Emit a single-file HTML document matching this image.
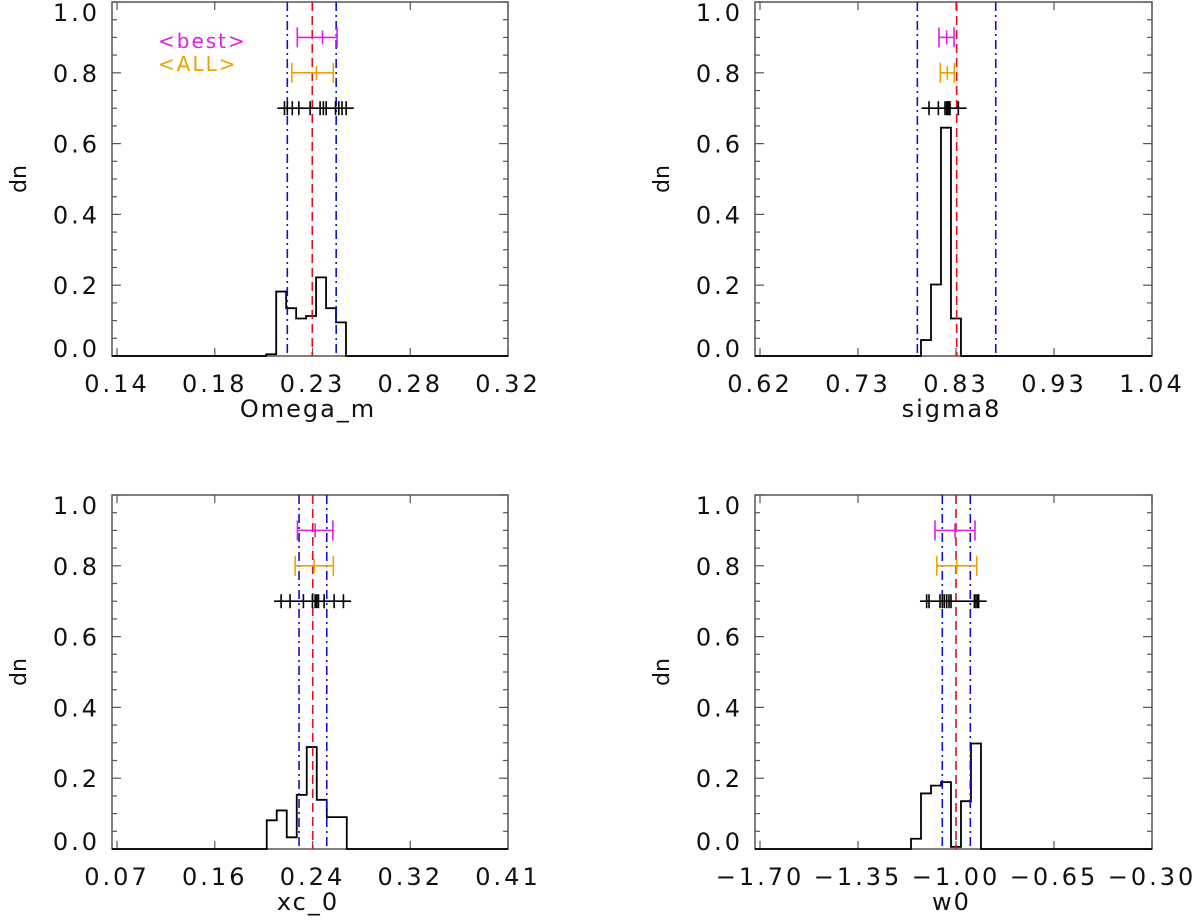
<!DOCTYPE html>
<html><head><meta charset="utf-8"><style>
html,body{margin:0;padding:0;background:#fff;}
svg text{font-family:"DejaVu Sans","Liberation Sans",sans-serif;fill:#111;}
</style></head><body>
<svg id="chart" width="1200" height="917" viewBox="0 0 1200 917" xmlns="http://www.w3.org/2000/svg"></svg>
<script>
// ---- data: Omega_m panel ----
const omegaTicks = ["0.14","0.18","0.23","0.28","0.32"];
const omegaRange = [0.14, 0.32];
const omegaBinStart = 0.2087;
const omegaBinWidth = 0.00459;
const omegaCounts = [0.005,0.182,0.135,0.106,0.113,0.222,0.135,0.095];
const omegaBlue = [0.2184, 0.2409];
const omegaRed = [0.2299];
const omegaBest = [0.2230, 0.2346, 0.2413];
const omegaAll = [0.2205, 0.2318, 0.2396];
const omegaSpan = [0.2138, 0.2490];
const omegaSamples = [0.2171,0.2184,0.2207,0.2237,0.2289,0.2335,0.2350,0.2363,0.2406,0.2421,0.2436,0.2455];

// ---- data: sigma8 panel ----
const sigmaTicks = ["0.62","0.73","0.83","0.93","1.04"];
const sigmaRange = [0.62, 1.04];
const sigmaBinStart = 0.7925;
const sigmaBinWidth = 0.0107;
const sigmaCounts = [0.045,0.202,0.645,0.106];
const sigmaBlue = [0.7886, 0.8726];
const sigmaRed = [0.8307];
const sigmaBest = [0.8118, 0.8200, 0.8279];
const sigmaAll = [0.8132, 0.8207, 0.8282];
const sigmaSpan = [0.7932, 0.8414];
const sigmaSamples = [0.8011,0.8111,0.8182,0.8200,0.8207,0.8215,0.8222,0.8229,0.8236,0.8325];

// ---- data: xc_0 panel ----
const xcTicks = ["0.07","0.16","0.24","0.32","0.41"];
const xcRange = [0.07, 0.41];
const xcBinStart = 0.2002;
const xcBinWidth = 0.0087;
const xcCounts = [0.081,0.109,0.033,0.153,0.288,0.139,0.090,0.090];
const xcBlue = [0.2283, 0.2524];
const xcRed = [0.2402];
const xcBest = [0.2269, 0.2423, 0.2577];
const xcAll = [0.2249, 0.2414, 0.2581];
const xcSpan = [0.2066, 0.2736];
const xcSamples = [0.2127,0.2205,0.2321,0.2399,0.2423,0.2437,0.2452,0.2501,0.2588,0.2669];

// ---- data: w0 panel ----
const wTicks = ["\u22121.70","\u22121.35","\u22121.00","\u22120.65","\u22120.30"];
const wRange = [-1.70, -0.30];
const wBinStart = -1.1607;
const wBinWidth = 0.0357;
const wCounts = [0.029,0.157,0.179,0.189,0.006,0.135,0.298];
const wBlue = [-1.0489, -0.9489];
const wRed = [-1.0];
const wBest = [-1.075, -1.0036, -0.9322];
const wAll = [-1.069, -0.9976, -0.926];
const wSpan = [-1.1286, -0.8905];
const wSamples = [-1.1048,-1.0964,-1.0571,-1.0489,-1.0417,-1.0333,-1.025,-1.0179,-0.9345,-0.9286,-0.9226,-0.919];

const yTicks = ["0.0","0.2","0.4","0.6","0.8","1.0"];

const NS = "http://www.w3.org/2000/svg";
const svg = document.getElementById("chart");
function mk(tag, attrs, parent) {
  const e = document.createElementNS(NS, tag);
  for (const k in attrs) e.setAttribute(k, attrs[k]);
  (parent || svg).appendChild(e);
  return e;
}

function drawPanel(p) {
  const g = mk("g", {});
  
  
  const L = p.left, R = p.right, T = p.top, B = p.bottom;
  const x0 = L + 5;
  const xs = v => x0 + (v - p.range[0]) / (p.range[1] - p.range[0]) * (R - x0);
  const ys = v => B - v * (B - T);

  const frame = mk("rect", {x:L, y:T, width:R-L, height:B-T, fill:"none", stroke:"#555", "stroke-width":1.5}, g);
  
  

  for (let i = 0; i <= 20; i++) {
    const v = i * 0.05, y = ys(v);
    const len = (i % 4 === 0) ? 9 : 5;
    mk("line", {x1:L, x2:L+len, y1:y, y2:y, stroke:"#555", "stroke-width":1.2}, g);
    mk("line", {x1:R, x2:R-len, y1:y, y2:y, stroke:"#555", "stroke-width":1.2}, g);
  }
  yTicks.forEach((lab, i) => {
    const v = parseFloat(lab);
    let y = ys(v);
    y = Math.max(T + 10, Math.min(B - 8, y));
    const t = mk("text", {x:L - 12, y:y + 9, "text-anchor":"end", "font-size":24, "letter-spacing":3}, g);
    t.textContent = lab;
    
    
  });
  const yt = mk("text", {x:0, y:0, "text-anchor":"middle", "font-size":22, transform:`translate(${L-86},${(T+B)/2}) rotate(-90)`}, g);
  yt.textContent = "dn";
  
  

  p.ticks.forEach((lab, i) => {
    const x = x0 + i * (R - x0) / (p.ticks.length - 1);
    mk("line", {x1:x, x2:x, y1:B, y2:B-8, stroke:"#555", "stroke-width":1.2}, g);
    mk("line", {x1:x, x2:x, y1:T, y2:T+8, stroke:"#555", "stroke-width":1.2}, g);
    const t = mk("text", {x:x, y:B + 36, "text-anchor":"middle", "font-size":24, "letter-spacing":3}, g);
    t.textContent = lab;
    
    
  });
  const xt = mk("text", {x:(L+R)/2 - 2, y:B + 61, "text-anchor":"middle", "font-size":24, "letter-spacing":2}, g);
  xt.textContent = p.title;
  
  

  let d = `M${L},${B} L${xs(p.binStart)},${B}`;
  p.counts.forEach((c, i) => {
    const xa = xs(p.binStart + i * p.binWidth), xb = xs(p.binStart + (i + 1) * p.binWidth);
    d += ` L${xa},${ys(c)} L${xb},${ys(c)}`;
  });
  d += ` L${xs(p.binStart + p.counts.length * p.binWidth)},${B} L${R},${B}`;
  const h = mk("path", {d:d, fill:"none", stroke:"#000", "stroke-width":1.8}, g);
  
  

  p.blue.forEach(v => {
    const l = mk("line", {x1:xs(v), x2:xs(v), y1:T, y2:B, stroke:"#1010d0", "stroke-width":1.6, "stroke-dasharray":"9,4,2,4"}, g);
    
    
  });
  p.red.forEach(v => {
    const l = mk("line", {x1:xs(v), x2:xs(v), y1:T, y2:B, stroke:"#e01010", "stroke-width":1.6, "stroke-dasharray":"9,5"}, g);
    
    
  });

  function ebar(vals, yv, color, nm) {
    const eg = mk("g", {stroke:color, "stroke-width":1.6}, g);
    
    
    const y = ys(yv);
    mk("line", {x1:xs(vals[0]), x2:xs(vals[2]), y1:y, y2:y}, eg);
    mk("line", {x1:xs(vals[0]), x2:xs(vals[0]), y1:y-10, y2:y+10}, eg);
    mk("line", {x1:xs(vals[2]), x2:xs(vals[2]), y1:y-10, y2:y+10}, eg);
    mk("line", {x1:xs(vals[1]), x2:xs(vals[1]), y1:y-7, y2:y+7}, eg);
  }
  ebar(p.best, 0.9, "#e020e0", 'best-errorbar');
  ebar(p.all, 0.8, "#f0a000", 'all-errorbar');

  const sg = mk("g", {stroke:"#000", "stroke-width":1.6}, g);
  
  
  const ys7 = ys(0.7);
  mk("line", {x1:xs(p.span[0]), x2:xs(p.span[1]), y1:ys7, y2:ys7}, sg);
  p.samples.forEach(v => {
    mk("line", {x1:xs(v), x2:xs(v), y1:ys7-7, y2:ys7+7}, sg);
  });
}

drawPanel({name:"omega-m", title:"Omega_m", left:112, right:508, top:2, bottom:356, range:omegaRange, ticks:omegaTicks,
  binStart:omegaBinStart, binWidth:omegaBinWidth, counts:omegaCounts, blue:omegaBlue, red:omegaRed,
  best:omegaBest, all:omegaAll, span:omegaSpan, samples:omegaSamples});
drawPanel({name:"sigma8", title:"sigma8", left:755, right:1152, top:2, bottom:356, range:sigmaRange, ticks:sigmaTicks,
  binStart:sigmaBinStart, binWidth:sigmaBinWidth, counts:sigmaCounts, blue:sigmaBlue, red:sigmaRed,
  best:sigmaBest, all:sigmaAll, span:sigmaSpan, samples:sigmaSamples});
drawPanel({name:"xc-0", title:"xc_0", left:112, right:508, top:495, bottom:849, range:xcRange, ticks:xcTicks,
  binStart:xcBinStart, binWidth:xcBinWidth, counts:xcCounts, blue:xcBlue, red:xcRed,
  best:xcBest, all:xcAll, span:xcSpan, samples:xcSamples});
drawPanel({name:"w0", title:"w0", left:755, right:1152, top:495, bottom:849, range:wRange, ticks:wTicks,
  binStart:wBinStart, binWidth:wBinWidth, counts:wCounts, blue:wBlue, red:wRed,
  best:wBest, all:wAll, span:wSpan, samples:wSamples});

const lb = mk("text", {x:158, y:48, "font-size":20, "letter-spacing":2, style:"fill:#e020e0"});
lb.textContent = "<best>";


const la = mk("text", {x:158, y:71, "font-size":20, "letter-spacing":2, style:"fill:#f0a000"});
la.textContent = "<ALL>";


</script>
</body></html>
